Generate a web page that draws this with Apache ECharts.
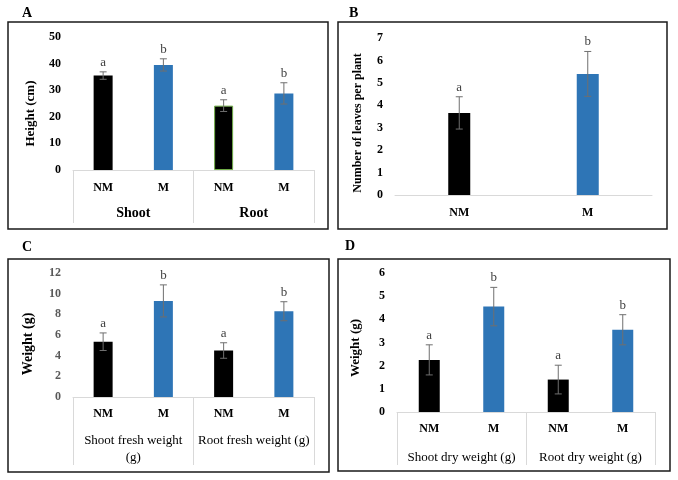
<!DOCTYPE html>
<html>
<head>
<meta charset="utf-8">
<script src="https://cdn.jsdelivr.net/npm/echarts@6/dist/echarts.min.js"></script>
<style>
html,body{margin:0;padding:0;background:#fff;}
#c{width:678px;height:480px;}
</style>
</head>
<body>
<div id="c"></div>
<script>
// ---- data ----
const treatCats4 = ['NM', 'M', 'NM', 'M'];
const treatCats2 = ['NM', 'M'];

const heightGroups = ['Shoot', 'Root'];
const heightVals = [35.5, 39.5, 24.2, 28.8];
const heightErr = [1.4, 2.3, 2.2, 4.0];
const heightSig = ['a', 'b', 'a', 'b'];
const heightTicks = [0, 50, 10];

const leavesVals = [3.66, 5.4];
const leavesErr = [0.72, 1.0];
const leavesSig = ['a', 'b'];
const leavesTicks = [0, 7, 1];

const freshGroups = ['Shoot fresh weight\n(g)', 'Root fresh weight (g)'];
const freshVals = [5.35, 9.3, 4.5, 8.3];
const freshErr = [0.85, 1.55, 0.75, 0.92];
const freshSig = ['a', 'b', 'a', 'b'];
const freshTicks = [0, 12, 2];

const dryGroups = ['Shoot dry weight (g)', 'Root dry weight (g)'];
const dryVals = [2.25, 4.55, 1.4, 3.55];
const dryErr = [0.65, 0.83, 0.62, 0.65];
const drySig = ['a', 'b', 'a', 'b'];
const dryTicks = [0, 6, 1];

// ---- styling ----
const FONT = '"Liberation Serif", "DejaVu Serif", serif';
const BLACK = '#000000';
const BLUE = '#2E75B6';
const ERR = '#6f6f6f';
const GRIDLINE = '#d9d9d9';

const chart = echarts.init(document.getElementById('c'), null, {renderer: 'canvas'});

const grids = [
  {left: 73, right: 364, top: 37, bottom: 310},
  {left: 395, right: 26, top: 38, bottom: 285},
  {left: 73, right: 364, top: 273, bottom: 83},
  {left: 397, right: 23, top: 273, bottom: 68}
];

function yAxis(gi, ticks, name, gap, fs, labelColor, pad) {
  return {
    type: 'value', gridIndex: gi, min: ticks[0], max: ticks[1], interval: ticks[2],
    axisLine: {show: false}, axisTick: {show: false}, splitLine: {show: false},
    axisLabel: {margin: 12, fontFamily: FONT, fontWeight: 'bold', fontSize: 12, color: labelColor},
    name: name, nameLocation: 'middle', nameGap: gap, nameRotate: 90,
    nameTextStyle: {fontFamily: FONT, fontWeight: 'bold', fontSize: fs, color: '#000', padding: pad}
  };
}
function catAxis(gi, data, margin) {
  return {
    type: 'category', gridIndex: gi, data: data,
    axisLine: {show: true, lineStyle: {color: GRIDLINE, width: 1}},
    axisTick: {show: false}, splitLine: {show: false},
    axisLabel: {margin: margin, fontFamily: FONT, fontWeight: 'bold', fontSize: 12, color: '#000', interval: 0}
  };
}
function groupAxis(gi, data, margin, tickLen, bold, fs) {
  return {
    type: 'category', gridIndex: gi, data: data, position: 'bottom',
    axisLine: {show: false},
    axisTick: {show: true, length: tickLen, alignWithLabel: false, interval: 0, lineStyle: {color: GRIDLINE, width: 1}},
    splitLine: {show: false},
    axisLabel: {margin: margin, fontFamily: FONT, fontWeight: bold ? 'bold' : 'normal', fontSize: fs, color: '#000', interval: 0, lineHeight: 17, verticalAlign: 'top'}
  };
}

function barSeries(xi, yi, vals, barWidth, special) {
  return {
    type: 'bar', xAxisIndex: xi, yAxisIndex: yi, barWidth: barWidth, silent: true,
    data: vals.map((v, i) => {
      const it = {value: v, itemStyle: {color: i % 2 === 0 ? BLACK : BLUE}};
      if (special && special[i]) it.itemStyle = Object.assign(it.itemStyle, special[i]);
      return it;
    })
  };
}
function errSeries(xi, yi, vals, errs, sigs) {
  return {
    type: 'custom', xAxisIndex: xi, yAxisIndex: yi, silent: true, z: 5,
    data: vals.map((v, i) => [i, v, errs[i]]),
    renderItem: function (params, api) {
      const x = api.value(0), y = api.value(1), e = api.value(2);
      const t = api.coord([x, y + e]);
      const b = api.coord([x, y - e]);
      const hw = 3.5;
      const st = {stroke: ERR, lineWidth: 1};
      return {
        type: 'group',
        children: [
          {type: 'line', shape: {x1: t[0], y1: t[1], x2: b[0], y2: b[1]}, style: st},
          {type: 'line', shape: {x1: t[0] - hw, y1: t[1], x2: t[0] + hw, y2: t[1]}, style: st},
          {type: 'line', shape: {x1: b[0] - hw, y1: b[1], x2: b[0] + hw, y2: b[1]}, style: st},
          {type: 'text', x: t[0], y: t[1] - 3, style: {text: sigs[params.dataIndex], fill: '#404040', font: '13px ' + FONT, textAlign: 'center', textVerticalAlign: 'bottom'}}
        ]
      };
    }
  };
}

function frame(x1, y1, x2, y2) {
  return {type: 'rect', shape: {x: x1, y: y1, width: x2 - x1, height: y2 - y1}, style: {fill: null, stroke: '#1a1a1a', lineWidth: 1.5}, silent: true, z: 0};
}
function panelLabel(txt, x, y) {
  return {type: 'text', x: x, y: y, style: {text: txt, fill: '#000', font: 'bold 14px ' + FONT, textAlign: 'left', textVerticalAlign: 'middle'}, silent: true};
}

const option = {
  animation: false,
  backgroundColor: '#ffffff',
  grid: grids,
  xAxis: [
    catAxis(0, treatCats4, 12),
    groupAxis(0, heightGroups, 35, 53, true, 14),
    catAxis(1, treatCats2, 12),
    catAxis(2, treatCats4, 11),
    groupAxis(2, freshGroups, 35, 68, false, 13),
    catAxis(3, treatCats4, 11),
    groupAxis(3, dryGroups, 37, 53, false, 13)
  ],
  yAxis: [
    yAxis(0, heightTicks, 'Height (cm)', 36, 13, '#000', [0, 20, 0, 0]),
    yAxis(1, leavesTicks, 'Number of leaves per plant', 31, 12, '#000', [0, 13, 0, 0]),
    yAxis(2, freshTicks, 'Weight (g)', 38, 14, '#595959', [0, 18, 0, 0]),
    yAxis(3, dryTicks, 'Weight (g)', 35, 13, '#000', [0, 11, 0, 0])
  ],
  series: [
    barSeries(0, 0, heightVals, 19, {2: {borderColor: '#70AD47', borderWidth: 1}}),
    errSeries(0, 0, heightVals, heightErr, heightSig),
    barSeries(2, 1, leavesVals, 22),
    errSeries(2, 1, leavesVals, leavesErr, leavesSig),
    barSeries(3, 2, freshVals, 19),
    errSeries(3, 2, freshVals, freshErr, freshSig),
    barSeries(5, 3, dryVals, 21),
    errSeries(5, 3, dryVals, dryErr, drySig)
  ],
  graphic: [
    frame(8, 22, 328, 229),
    frame(338, 22, 667, 229),
    frame(8, 259, 329, 472),
    frame(338, 259, 670, 471),
    panelLabel('A', 22, 13),
    panelLabel('B', 349, 13),
    panelLabel('C', 22, 247),
    panelLabel('D', 345, 246)
  ]
};
chart.setOption(option);
</script>
</body>
</html>
